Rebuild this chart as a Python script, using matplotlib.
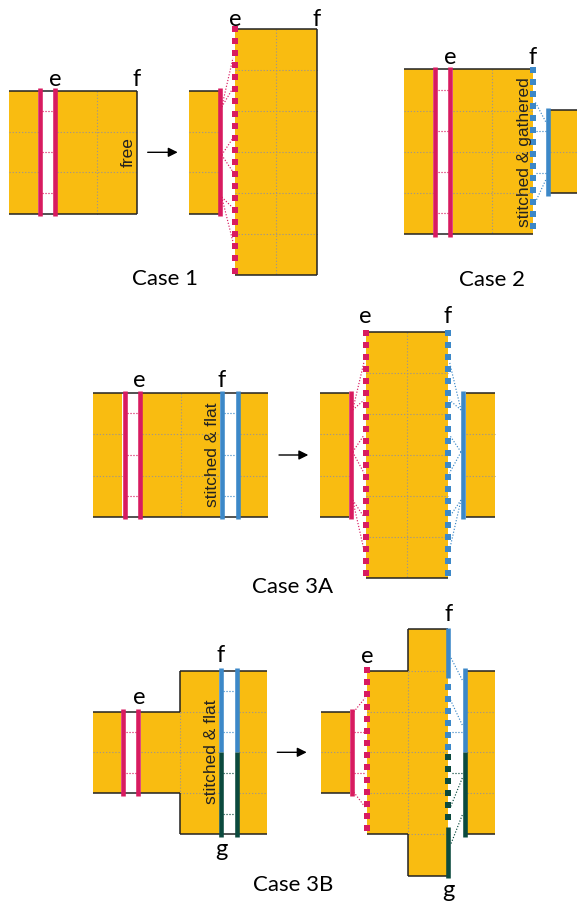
import numpy as np
import matplotlib
matplotlib.use("Agg")
import matplotlib.pyplot as plt
from matplotlib.patches import Rectangle

# colours
YELLOW = "#F9BC11"
PINK = "#D81B60"
BLUE = "#3C88C8"
GREEN = "#0B4A3E"
GRID = "#A0968A"
EDGE = "#222222"

LABEL_FONT = ["Lato", "DejaVu Sans"]
NOTE_FONT = ["Liberation Sans", "DejaVu Sans"]

# ---- geometry (pixel coords, y downwards) ----
# yellow pieces: (x0, x1, y0, y1)
RECTS = [
    # case 1
    (9, 37.5, 91, 213.5), (57, 137, 91, 213.5),
    (189, 219.5, 91, 213.5), (235, 316.7, 29, 275),
    # case 2
    (404, 433, 69, 234), (452.5, 533, 69, 234), (550, 577, 110, 193.3),
    # case 3A
    (93.3, 122.3, 393.3, 516.7), (142.3, 219.5, 393.3, 516.7), (240, 268.3, 393.3, 516.7),
    (320, 348.5, 393.3, 516.7), (365.7, 447.7, 331.7, 577.7), (465.7, 495, 393.3, 516.7),
    # case 3B
    (92.7, 121, 711.7, 793.3), (140.7, 180, 711.7, 793.3),
    (180, 218.5, 670.7, 834.3), (239, 266.7, 670.7, 834.3),
    (320.7, 349.5, 711.7, 793.3), (367.3, 408.3, 670.7, 834.3),
    (408.3, 448.3, 629.3, 875.7), (466.7, 495, 670.7, 834.3),
]

# dotted grid lines inside the pieces: (y, x0, x1) and (x, y0, y1)
GRID_H = [
    (131.7, 9, 37.5), (172.3, 9, 37.5), (131.7, 57, 137), (172.3, 57, 137),
    (131.7, 189, 219.5), (172.3, 189, 219.5),
    (70, 235, 316.7), (111, 235, 316.7), (152, 235, 316.7), (193, 235, 316.7), (234, 235, 316.7),
    (110.7, 404, 433), (151.7, 404, 433), (193.3, 404, 433),
    (110.7, 452.5, 533), (151.7, 452.5, 533), (193.3, 452.5, 533), (151.7, 550, 577),
    (434.3, 93.3, 122.3), (475.7, 93.3, 122.3), (434.3, 142.3, 219.5), (475.7, 142.3, 219.5),
    (434.3, 240, 268.3), (475.7, 240, 268.3),
    (434.3, 320, 348.5), (475.7, 320, 348.5),
    (372.7, 365.7, 447.7), (413.7, 365.7, 447.7), (454.7, 365.7, 447.7),
    (495.7, 365.7, 447.7), (536.7, 365.7, 447.7),
    (434.3, 465.7, 495), (475.7, 465.7, 495),
    (752.3, 92.7, 121), (752.3, 140.7, 180),
    (711.7, 180, 218.5), (752.3, 180, 218.5), (793.3, 180, 218.5),
    (711.7, 239, 266.7), (752.3, 239, 266.7), (793.3, 239, 266.7),
    (752.3, 320.7, 349.5),
    (711.7, 367.3, 408.3), (752.3, 367.3, 408.3), (793.3, 367.3, 408.3),
    (670.7, 408.3, 448.3), (711.7, 408.3, 448.3), (752.3, 408.3, 448.3),
    (793.3, 408.3, 448.3), (834.3, 408.3, 448.3),
    (711.7, 466.7, 495), (752.3, 466.7, 495), (793.3, 466.7, 495),
]
GRID_V = [
    (96.7, 91, 213.5), (276, 29, 275), (491.7, 69, 234),
    (180.7, 393.3, 516.7), (406.7, 331.7, 577.7),
    (180, 711.7, 793.3), (408.3, 670.7, 834.3),
]

# solid outlines: horizontal (y, x0, x1), vertical (x, y0, y1)
EDGE_H = [
    (91, 9, 137), (213.5, 9, 137), (91, 189, 219.5), (213.5, 189, 219.5),
    (29, 235, 316.7), (275, 235, 316.7),
    (69, 404, 533), (234, 404, 533), (110, 550, 577), (193.3, 550, 577),
    (393.3, 93.3, 268.3), (516.7, 93.3, 268.3),
    (393.3, 320, 348.5), (516.7, 320, 348.5), (331.7, 365.7, 447.7), (577.7, 365.7, 447.7),
    (393.3, 465.7, 495), (516.7, 465.7, 495),
    (711.7, 92.7, 180), (793.3, 92.7, 180), (670.7, 180, 266.7), (834.3, 180, 266.7),
    (711.7, 320.7, 349.5), (793.3, 320.7, 349.5),
    (670.7, 367.3, 408.3), (834.3, 367.3, 408.3), (629.3, 408.3, 448.3), (875.7, 408.3, 448.3),
    (670.7, 466.7, 495), (834.3, 466.7, 495),
]
EDGE_V = [
    (137, 91, 213.5), (316.7, 29, 275),
    (180, 670.7, 711.7), (180, 793.3, 834.3),
    (408.3, 629.3, 670.7), (408.3, 834.3, 875.7),
]

# solid seam bars: (x, y0, y1, colour)
BARS = [
    (39.5, 88, 216, PINK), (55, 88, 216, PINK), (219.5, 88, 216, PINK),
    (435, 66.5, 236.5, PINK), (450.3, 66.5, 236.5, PINK), (548, 108, 195.5, BLUE),
    (124.5, 391, 519, PINK), (140, 391, 519, PINK),
    (221.7, 391, 519, BLUE), (237.7, 391, 519, BLUE),
    (350.5, 391, 519, PINK), (463.3, 391, 519, BLUE),
    (123.3, 709, 796, PINK), (138.3, 709, 796, PINK),
    (220.8, 668, 752.3, BLUE), (220.8, 752.3, 836.5, GREEN),
    (236.7, 668, 752.3, BLUE), (236.7, 752.3, 836.5, GREEN),
    (351.5, 709, 796, PINK),
    (464.5, 668, 752.3, BLUE), (464.5, 752.3, 836.5, GREEN),
    (448.3, 627.5, 678.3, BLUE), (448.3, 826.7, 877.5, GREEN),
]

# stitched edges drawn as square dots: (x, first y, last y, count, colour)
DOT_BARS = [
    (235, 29, 270.5, 21, PINK),
    (533, 70, 226, 14, BLUE),
    (365.7, 332.5, 573.3, 21, PINK), (447.7, 332.5, 573.3, 21, BLUE),
    (367.3, 670, 828.3, 14, PINK),
    (448.3, 686.7, 746.7, 6, BLUE), (448.3, 756.7, 816.7, 6, GREEN),
]

# thin dotted stitch threads: (x0, y0, x1, y1, colour)
THREADS = [
    # case 1
    (41.7, 110.7, 52.7, 110.7, PINK), (41.7, 152, 52.7, 152, PINK), (41.7, 193.3, 52.7, 193.3, PINK),
    (221.7, 107, 233, 58, PINK), (221.7, 107, 233, 88, PINK),
    (221.7, 155, 233, 138, PINK), (221.7, 155, 233, 172, PINK),
    (221.7, 197, 233, 208, PINK), (221.7, 197, 233, 242, PINK),
    # case 2
    (437.5, 90, 448, 90, PINK), (437.5, 130.7, 448, 130.7, PINK),
    (437.5, 172.3, 448, 172.3, PINK), (437.5, 213.3, 448, 213.3, PINK),
    (545.7, 131, 535, 131, BLUE), (545.7, 172.7, 535, 172.7, BLUE),
    (545.7, 121.7, 535, 101.7, BLUE), (545.7, 180, 535, 203, BLUE),
    # case 3A
    (126.7, 413.3, 137.7, 413.3, PINK), (126.7, 455, 137.7, 455, PINK), (126.7, 496, 137.7, 496, PINK),
    (224, 413.3, 235.3, 413.3, BLUE), (224, 455, 235.3, 455, BLUE), (224, 496, 235.3, 496, BLUE),
    (352.7, 410, 364, 362, PINK), (352.7, 410, 364, 400, PINK),
    (352.7, 452, 364, 435, PINK), (352.7, 452, 364, 473, PINK),
    (352.7, 500, 364, 517, PINK), (352.7, 500, 364, 550, PINK),
    (461, 410, 449.5, 362, BLUE), (461, 410, 449.5, 400, BLUE),
    (461, 452, 449.5, 435, BLUE), (461, 452, 449.5, 473, BLUE),
    (461, 500, 449.5, 517, BLUE), (461, 500, 449.5, 550, BLUE),
    # case 3B
    (125.7, 732.3, 136, 732.3, PINK), (125.7, 773.3, 136, 773.3, PINK),
    (223.3, 690.7, 234.3, 690.7, BLUE), (223.3, 732.3, 234.3, 732.3, BLUE),
    (223.3, 773.3, 234.3, 773.3, GREEN), (223.3, 814.3, 234.3, 814.3, GREEN),
    (353.7, 712, 365, 698, PINK), (353.7, 732.3, 365, 732.3, PINK),
    (353.7, 773.3, 365, 773.3, PINK), (353.7, 792, 365, 807, PINK),
    (462.3, 680, 450.5, 657, BLUE), (462.3, 725, 450.5, 700, BLUE),
    (462.3, 732.3, 450.5, 732.3, BLUE),
    (462.3, 773.3, 450.5, 773.3, GREEN), (462.3, 778, 450.5, 807, GREEN),
    (462.3, 815, 450.5, 845, GREEN),
]

ARROWS = [(147.7, 177.7, 152.3), (279, 308.3, 455), (277.3, 306.7, 752.3)]

# edge letters: (text, x, y, vertical anchor)
EDGE_LABELS = [
    ("e", 55, 86, "baseline"), ("f", 136.5, 86, "baseline"),
    ("e", 235, 26, "baseline"), ("f", 316.7, 26, "baseline"),
    ("e", 450.3, 64, "baseline"), ("f", 533, 64, "baseline"),
    ("e", 139.5, 386.7, "baseline"), ("f", 221.7, 386.7, "baseline"),
    ("e", 365.7, 323.3, "baseline"), ("f", 447.7, 323.3, "baseline"),
    ("e", 139.3, 704, "baseline"), ("f", 221, 662.3, "baseline"), ("g", 221, 839, "top"),
    ("e", 367.3, 663.3, "baseline"), ("f", 448.3, 620.7, "baseline"), ("g", 448.3, 880, "top"),
]
CASE_LABELS = [("Case 1", 165, 279), ("Case 2", 491.7, 280),
               ("Case 3A", 293, 587), ("Case 3B", 293, 885)]
NOTES = [("free", 128.5, 151.7), ("stitched & gathered", 524, 151.7),
         ("stitched & flat", 212.5, 455), ("stitched & flat", 212, 751.7)]

fig = plt.figure(figsize=(5.77, 9.01), dpi=100)
ax = fig.add_axes([0, 0, 1, 1])
ax.set_xlim(0, 577)
ax.set_ylim(901, 0)
ax.axis("off")

for x0, x1, y0, y1 in RECTS:
    ax.add_patch(Rectangle((x0, y0), x1 - x0, y1 - y0, facecolor=YELLOW,
                           edgecolor="none", zorder=1))

dots = (0, (1.2, 1.8))
for y, x0, x1 in GRID_H:
    ax.plot([x0, x1], [y, y], color=GRID, lw=0.75, ls=dots, zorder=2)
for x, y0, y1 in GRID_V:
    ax.plot([x, x], [y0, y1], color=GRID, lw=0.75, ls=dots, zorder=2)

for y, x0, x1 in EDGE_H:
    ax.plot([x0, x1], [y, y], color=EDGE, lw=1.1, solid_capstyle="butt", zorder=3)
for x, y0, y1 in EDGE_V:
    ax.plot([x, x], [y0, y1], color=EDGE, lw=1.1, solid_capstyle="butt", zorder=3)

for x0, y0, x1, y1, c in THREADS:
    ax.plot([x0, x1], [y0, y1], color=c, lw=0.85, ls=(0, (1, 1.5)), zorder=3)

for x, y0, y1, c in BARS:
    ax.plot([x, x], [y0, y1], color=c, lw=3.3, solid_capstyle="butt", zorder=4)

for x, ya, yb, n, c in DOT_BARS:
    ys = np.linspace(ya, yb, n)
    ax.plot(np.full(n, x), ys, ls="none", marker="s", ms=3.8, color=c,
            markeredgewidth=0, zorder=5)

for x0, x1, y in ARROWS:
    ax.annotate("", xy=(x1, y), xytext=(x0, y),
                arrowprops=dict(arrowstyle="-|>", color="black", lw=1.0,
                                mutation_scale=14, shrinkA=0, shrinkB=0))

for t, x, y, va in EDGE_LABELS:
    ax.text(x, y, t, ha="center", va=va, fontsize=17, family=LABEL_FONT, zorder=6)
for t, x, y in CASE_LABELS:
    ax.text(x, y, t, ha="center", va="center", fontsize=16, family=LABEL_FONT, zorder=6)
for t, x, y in NOTES:
    ax.text(x, y, t, ha="center", va="center", rotation=90, fontsize=12.5,
            family=NOTE_FONT, color="#222222", zorder=6)

fig.savefig("out.png", dpi=100)
